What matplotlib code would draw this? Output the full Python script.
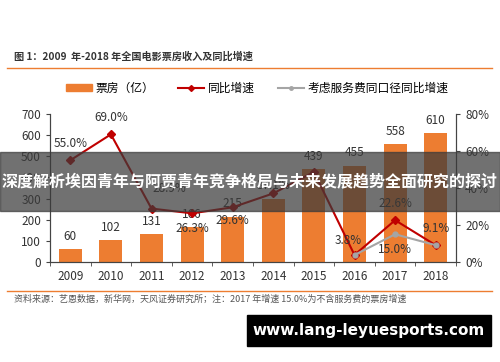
import numpy as np
import matplotlib.pyplot as plt
from matplotlib.patches import Rectangle
from matplotlib.lines import Line2D

plt.rcParams['font.family'] = ['Noto Sans CJK SC', 'DejaVu Sans']

years = ['2009', '2010', '2011', '2012', '2013', '2014', '2015', '2016', '2017', '2018']
box_office = [60, 102, 131, 166, 215, 296, 439, 455, 558, 610]
growth = [55.0, 69.0, 28.9, 26.3, 29.6, 37.1, 48.7, 3.8, 22.6, 9.1]
growth_fee_years = ['2016', '2017', '2018']
growth_fee = [3.8, 15.0, 9.1]

orange = '#ED7D31'
red = '#C00000'
gray = '#A5A5A5'

fig = plt.figure(figsize=(5, 3.62), dpi=100)
ax = fig.add_axes([0.1, 0.2762, 0.812, 0.4088])
ax2 = ax.twinx()

x = np.arange(len(years))
ax.bar(x, box_office, width=0.57, color=orange, zorder=2)
for xi, v in zip(x, box_office):
    if years[xi] == '2014':
        continue
    ax.text(xi, v + 30, str(v), ha='center', va='bottom', fontsize=8.5, color='#333333')

ax.set_ylim(0, 700)
ax.set_yticks(range(0, 701, 100))
ax.set_xlim(-0.5, len(years) - 0.5)
ax.set_xticks(x)
ax.set_xticklabels(years)
ax.set_xticks(np.arange(-0.5, len(years), 1), minor=True)
ax.tick_params(axis='x', which='major', length=0, labelsize=8.5, pad=6)
ax.tick_params(axis='x', which='minor', length=3, direction='out')
ax.tick_params(axis='y', labelsize=8.5, length=3, direction='out')

ax2.plot(x, growth, color=red, marker='D', markersize=4, linewidth=1.5, zorder=3)
fx = [years.index(y) for y in growth_fee_years]
ax2.plot(fx, growth_fee, color=gray, marker='o', markersize=3.5, linewidth=1.5, zorder=4)
ax2.set_ylim(0, 80)
ax2.set_yticks([0, 20, 40, 60, 80])
ax2.set_yticklabels(['0%', '20%', '40%', '60%', '80%'])
ax2.tick_params(axis='y', labelsize=8.5, length=3, direction='out')

labels = [(0, 55.0, 0, 9), (1, 69.0, 0, 9), (2, 28.9, 0.45, 11), (3, 26.3, 0, -8),
          (4, 29.6, 0, -7), (5, 37.1, 0, 4), (7, 3.8, -0.15, 8), (8, 22.6, 0, 9),
          (9, 9.1, 0, 9)]
for xi, v, dx, dy in labels:
    ax2.text(xi + dx, v + dy, f'{v:.1f}%', ha='center', va='center', fontsize=8.5, color='#333333')
ax2.text(8, 15.0 - 8, '15.0%', ha='center', va='center', fontsize=8.5, color='#333333')

for a in (ax, ax2):
    a.spines['top'].set_visible(False)
    for s in ('left', 'right', 'bottom'):
        a.spines[s].set_color('#444444')
        a.spines[s].set_linewidth(0.8)
ax.tick_params(colors='#444444', labelcolor='#333333', which='both')
ax2.tick_params(colors='#444444', labelcolor='#333333')

# title and rules
fig.text(0.028, 1 - 57 / 362, '图 1：2009  年-2018 年全国电影票房收入及同比增速', fontsize=7.3,
         fontweight='bold', color='#333333', va='center')
fig.add_artist(Line2D([0.014, 0.984], [1 - 68 / 362] * 2, color=orange, linewidth=1))
fig.add_artist(Line2D([0.014, 0.984], [1 - 291 / 362] * 2, color=orange, linewidth=1))
fig.text(0.028, 1 - 299 / 362, '资料来源：艺恩数据，新华网，天风证券研究所；注：2017 年增速 15.0%为不含服务费的票房增速',
         fontsize=6.5, color='#555555', va='center')

handles = [Rectangle((0, 0), 1, 1, color=orange),
           Line2D([], [], color=red, marker='D', markersize=3),
           Line2D([], [], color=gray, marker='o', markersize=2.5)]
fig.legend(handles, ['票房（亿）', '同比增速', '考虑服务费同口径同比增速'], loc='center',
           bbox_to_anchor=(0.515, 1 - 88 / 362), ncol=3, frameon=False, fontsize=8.5,
           handlelength=2.2, handleheight=0.6, columnspacing=2, handletextpad=0.3)

# overlay banner
fig.add_artist(Rectangle((0, 1 - 211 / 362), 1, 59 / 362, transform=fig.transFigure,
                         color='#3a3a3a', alpha=0.72, zorder=10))
fig.text(0.5, 1 - 181 / 362, '深度解析埃因青年与阿贾青年竞争格局与未来发展趋势全面研究的探讨',
         ha='center', va='center', fontsize=11.5, fontweight='bold', color='white', zorder=11)

# watermark box
fig.add_artist(Rectangle((247 / 500, 1 - 346 / 362), 244 / 500, 31 / 362, transform=fig.transFigure,
                         color='black', zorder=10))
fig.text(369 / 500, 1 - 331 / 362, 'www.lang-leyuesports.com', ha='center', va='center',
         fontsize=11, fontweight='bold', color='white', family='DejaVu Sans', zorder=11)

fig.savefig('out.png', dpi=100)
